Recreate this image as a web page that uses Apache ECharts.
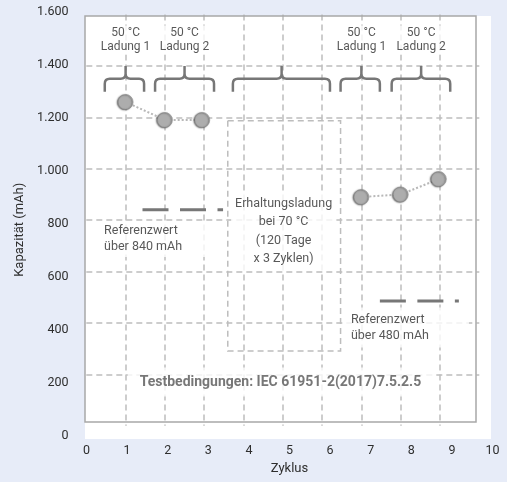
<!DOCTYPE html>
<html><head><meta charset="utf-8">
<script src="https://cdn.jsdelivr.net/npm/echarts@6/dist/echarts.min.js"></script>
<style>html,body{margin:0;padding:0;background:#e7ecf8}#c{width:507px;height:482px}</style>
</head><body><div id="c"></div>
<script>
// ---- data ----
const yTickLabels = ['0', '200', '400', '600', '800', '1.000', '1.200', '1.400', '1.600'];
const xTickLabels = ['0', '1', '2', '3', '4', '5', '6', '7', '8', '9', '10'];
const cyclesBefore = [1, 2, 2.95];
const capacityBefore = [1260, 1190, 1190];
const cyclesAfter = [7, 8, 8.97];
const capacityAfter = [890, 900, 960];
const ref840X = [1.43, 3.48];
const ref840Value = 840;
const ref480X = [7.47, 9.48];
const ref480Value = 485;
// [start, end, peak] in cycles
const braceSpans = [[0.47, 1.47, 1], [1.75, 3.25, 2.5], [3.73, 6.2, 4.97], [6.47, 7.47, 7], [7.77, 9.26, 8.52]];
const braceLevels = [1300, 1350, 1400]; // bottom, middle, top (mAh)
const storageBox = [[3.6, 1187], [6.47, 291]];
const phaseTexts = ['50 °C\nLadung 1', '50 °C\nLadung 2', '50 °C\nLadung 1', '50 °C\nLadung 2'];
const phaseX = [1, 2.5, 7, 8.52];
const phaseY = 1501;
const ref840Text = 'Referenzwert\nüber 840 mAh';
const ref480Text = 'Referenzwert\nüber 480 mAh';
const storageText = 'Erhaltungsladung\nbei 70 °C\n(120 Tage\nx 3 Zyklen)';
const testText = 'Testbedingungen: IEC 61951-2(2017)7.5.2.5';

const FONT = 'Roboto';
const TXT = '#2e2e2e';
const gridLine = { show: true, showMinLine: false, showMaxLine: false,
  lineStyle: { color: '#bdbdbd', type: [6, 4], width: 1.5 } };

function zip(a, b) { return a.map((v, i) => [v, b[i]]); }

const annotations = [];
phaseTexts.forEach((t, i) => annotations.push({
  value: [phaseX[i], phaseY],
  label: { formatter: t, align: 'center', verticalAlign: 'middle', lineHeight: 13.5,
    backgroundColor: '#fff', padding: [1, 3], color: TXT, fontSize: 12, fontFamily: FONT }
}));
annotations.push({
  value: [0.35, 727],
  label: { formatter: ref840Text, align: 'left', verticalAlign: 'middle', lineHeight: 16,
    backgroundColor: '#fff', padding: [2, 30, 2, 4], color: TXT, fontSize: 12.5, fontFamily: FONT }
});
annotations.push({
  value: [6.58, 382],
  label: { formatter: ref480Text, align: 'left', verticalAlign: 'middle', lineHeight: 16,
    backgroundColor: '#fff', padding: [4, 40, 4, 6], color: TXT, fontSize: 12.5, fontFamily: FONT }
});
annotations.push({
  value: [5.02, 756],
  label: { formatter: storageText, align: 'center', verticalAlign: 'middle', lineHeight: 18.3,
    backgroundColor: '#fff', padding: [5, 4, 1, 4], color: TXT, fontSize: 12.5, fontFamily: FONT }
});
annotations.push({
  value: [4.94, 170],
  label: { formatter: testText, align: 'center', verticalAlign: 'middle', lineHeight: 15,
    backgroundColor: '#fff', padding: [7, 12], color: '#555', fontSize: 14, fontWeight: 'bold', fontFamily: FONT }
});

const dotStyle = { color: '#adadad', borderColor: '#8c8c8c', borderWidth: 0.6,
  shadowColor: 'rgba(0,0,0,0.55)', shadowBlur: 1.5, shadowOffsetX: -1, shadowOffsetY: 0.5 };
const linkStyle = { color: '#b8b8b8', width: 2, type: [2, 2] };
const refStyle = { color: '#777', width: 3, type: [26, 11.5] };

const chart = echarts.init(document.getElementById('c'), null, { renderer: 'canvas' });
chart.setOption({
  animation: false,
  backgroundColor: '#e7ecf8',
  textStyle: { fontFamily: FONT },
  graphic: [
    { type: 'rect', z: -100, shape: { x: 85, y: 16, width: 406, height: 423 }, style: { fill: '#fff' }, silent: true },
    { type: 'rect', z: 100, shape: { x: 85, y: 16, width: 391, height: 406 }, style: { fill: 'none', stroke: '#a8a8a8', lineWidth: 1.5 }, silent: true }
  ],
  grid: [
    { left: 86.3, right: 27.7, top: 14.6, bottom: 56.3 },
    { left: 86.5, right: 14.5, top: 12, bottom: 46.4 }
  ],
  xAxis: [
    { gridIndex: 0, type: 'value', min: 0, max: 10, interval: 1,
      axisLine: { show: false }, axisTick: { show: false }, axisLabel: { show: false }, splitLine: gridLine },
    { gridIndex: 1, type: 'value', min: 0, max: 10, interval: 1,
      axisLine: { show: false }, axisTick: { show: false }, splitLine: { show: false },
      axisLabel: { formatter: v => xTickLabels[Math.round(v)], color: TXT, fontSize: 12.5, fontFamily: FONT, margin: 9 },
      name: 'Zyklus', nameLocation: 'middle', nameGap: 24,
      nameTextStyle: { color: TXT, fontSize: 13, fontFamily: FONT } }
  ],
  yAxis: [
    { gridIndex: 0, type: 'value', min: 0, max: 1600, interval: 200,
      axisLine: { show: false }, axisTick: { show: false }, axisLabel: { show: false }, splitLine: gridLine },
    { gridIndex: 1, type: 'value', min: 0, max: 1600, interval: 200,
      axisLine: { show: false }, axisTick: { show: false }, splitLine: { show: false },
      axisLabel: { formatter: v => yTickLabels[Math.round(v / 200)], color: TXT, fontSize: 12.5, fontFamily: FONT, margin: 18 },
      name: 'Kapazität (mAh)', nameLocation: 'middle', nameGap: 56, nameRotate: 90,
      nameTextStyle: { color: TXT, fontSize: 13, fontFamily: FONT, padding: [0, 12, 0, 0] } }
  ],
  series: [
    { type: 'line', name: 'ref840', xAxisIndex: 0, yAxisIndex: 0, symbol: 'none', silent: true,
      data: ref840X.map(x => [x, ref840Value]), lineStyle: refStyle,
      markArea: { silent: true, itemStyle: { color: 'rgba(0,0,0,0)', borderColor: '#bdbdbd', borderWidth: 1.5, borderType: [6, 4] },
        data: [[{ coord: storageBox[0] }, { coord: storageBox[1] }]] } },
    { type: 'line', name: 'ref480', xAxisIndex: 0, yAxisIndex: 0, symbol: 'none', silent: true,
      data: ref480X.map(x => [x, ref480Value]), lineStyle: refStyle },
    { type: 'custom', name: 'braces', xAxisIndex: 0, yAxisIndex: 0, silent: true, z: 3,
      data: braceSpans,
      renderItem: (params, api) => {
        const x0 = api.value(0), x1 = api.value(1), xp = api.value(2);
        const pL = api.coord([x0, braceLevels[0]]);
        const pR = api.coord([x1, braceLevels[0]]);
        const pM = api.coord([xp, braceLevels[1]]);
        const pT = api.coord([xp, braceLevels[2]]);
        const Y = pM[1], r = 5;
        const d = `M${pL[0]} ${pL[1]} L${pL[0]} ${Y + r} Q${pL[0]} ${Y} ${pL[0] + r} ${Y} L${pM[0] - r} ${Y} Q${pM[0]} ${Y} ${pM[0]} ${Y - r} L${pT[0]} ${pT[1]} M${pM[0]} ${Y - r} Q${pM[0]} ${Y} ${pM[0] + r} ${Y} L${pR[0] - r} ${Y} Q${pR[0]} ${Y} ${pR[0]} ${Y + r} L${pR[0]} ${pR[1]}`;
        return { type: 'path', shape: { pathData: d }, style: { fill: 'none', stroke: '#777', lineWidth: 2.5 } };
      } },
    { type: 'line', name: 'before', xAxisIndex: 0, yAxisIndex: 0, z: 4,
      data: zip(cyclesBefore, capacityBefore), symbol: 'circle', symbolSize: 15,
      itemStyle: dotStyle, lineStyle: linkStyle },
    { type: 'line', name: 'after', xAxisIndex: 0, yAxisIndex: 0, z: 4,
      data: zip(cyclesAfter, capacityAfter), symbol: 'circle', symbolSize: 15,
      itemStyle: dotStyle, lineStyle: linkStyle },
    { type: 'scatter', name: 'notes', xAxisIndex: 0, yAxisIndex: 0, z: 5, silent: true,
      symbol: 'circle', symbolSize: 1, itemStyle: { color: 'rgba(0,0,0,0)' },
      label: { show: true, position: 'inside' },
      data: annotations }
  ]
});
</script></body></html>
